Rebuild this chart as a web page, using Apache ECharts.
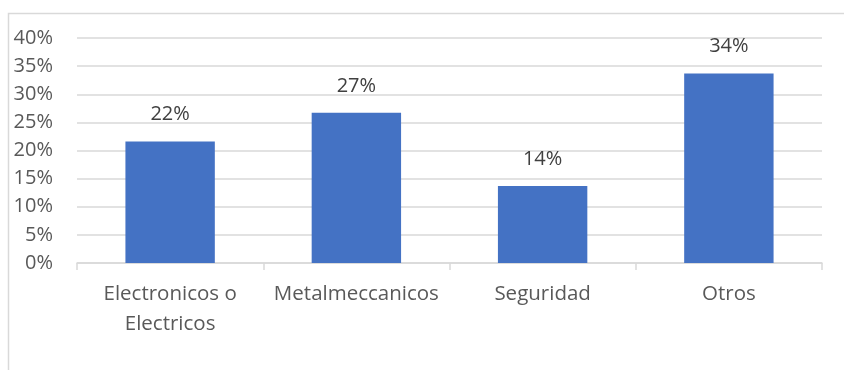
<!DOCTYPE html>
<html><head><meta charset="utf-8">
<script src="https://cdn.jsdelivr.net/npm/echarts@6/dist/echarts.min.js"></script>
<style>html,body{margin:0;padding:0;background:#fff}#c{width:844px;height:370px}</style>
</head><body><div id="c"></div>
<script>
const categories = ['Electronicos o\nElectricos', 'Metalmeccanicos', 'Seguridad', 'Otros'];
const values = [21.6, 26.7, 13.7, 33.7];
const yTicks = { min: 0, max: 40, interval: 5 };

const chart = echarts.init(document.getElementById('c'), null, { renderer: 'canvas' });
const font = 'Open Sans, Noto Sans, sans-serif';
chart.setOption({
  animation: false,
  graphic: [{ type: 'rect', shape: { x: 8.5, y: 13.5, width: 840, height: 370 },
    style: { fill: 'none', stroke: '#d9d9d9', lineWidth: 1.5 }, silent: true }],
  grid: { left: 77, right: 22, top: 38, bottom: 107 },
  xAxis: {
    type: 'category', data: categories,
    axisLine: { lineStyle: { color: '#d9d9d9', width: 1.5 } },
    axisTick: { show: true, interval: 0, length: 7, lineStyle: { color: '#d9d9d9', width: 1.5 } },
    axisLabel: { interval: 0, hideOverlap: false, color: '#595959', fontSize: 20.5, fontFamily: font, margin: 16, lineHeight: 30 }
  },
  yAxis: {
    type: 'value', min: yTicks.min, max: yTicks.max, interval: yTicks.interval,
    axisLine: { show: false }, axisTick: { show: false },
    splitLine: { lineStyle: { color: '#d9d9d9', width: 1.5 } },
    axisLabel: { color: '#595959', fontSize: 20, fontFamily: font, margin: 24,
      formatter: v => v + '%' }
  },
  series: [{
    type: 'bar', data: values, barWidth: '48%',
    itemStyle: { color: '#4472C4' },
    label: { show: true, position: 'top', distance: 17, color: '#404040', fontSize: 20, fontFamily: font,
      formatter: p => Math.round(p.value) + '%' }
  }]
});
</script></body></html>
